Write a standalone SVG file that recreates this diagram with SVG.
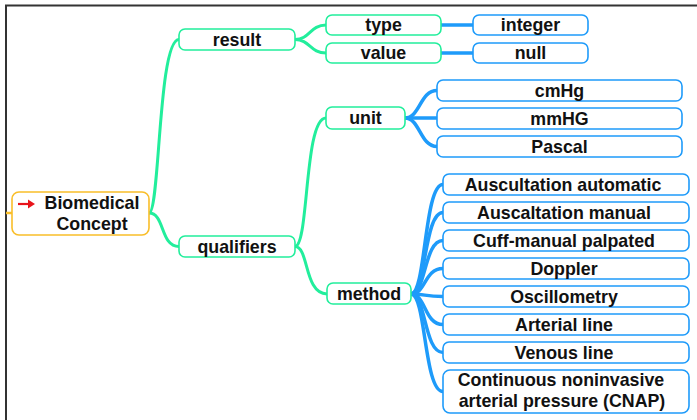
<svg xmlns="http://www.w3.org/2000/svg" width="697" height="420" viewBox="0 0 697 420">
  <style>
    text { font-family: "Liberation Sans", Arial, sans-serif; font-weight: bold; font-size: 17.8px; fill: #111; text-anchor: middle; }
    .g { fill: #fff; stroke: #22EE9C; stroke-width: 1.6; }
    .b { fill: #fff; stroke: #1E9BFA; stroke-width: 1.6; }
    .o { fill: #fff; stroke: #F9BE2A; stroke-width: 1.6; }
    .cg { fill: none; stroke: #22EE9C; stroke-width: 3; stroke-linecap: round; }
    .cb { fill: none; stroke: #1E9BFA; stroke-width: 3.5; stroke-linecap: round; }
  </style>

  <!-- frame -->
  <path d="M6,420 V5.5 H697" fill="none" stroke="#333" stroke-width="2"/>

  <g id="connectors">
    <path class="cg" d="M149,213 C160,213 158,39.5 179,39.5"/>
    <path class="cg" d="M149,213 C165,213 160,246.5 179,246.5"/>
    <path class="cg" d="M295,39.5 C310,39.5 310,25 326,25"/>
    <path class="cg" d="M295,39.5 C310,39.5 310,53 326,53"/>
    <path class="cg" d="M295,246.5 C309,246.5 304,118 326,118"/>
    <path class="cg" d="M295,246.5 C309,246.5 304,294 327,294"/>
    <path class="cb" d="M441,25 H473"/>
    <path class="cb" d="M441,53 H473"/>
    <path class="cb" d="M405,118 C420,118 420,90.5 437,90.5"/>
    <path class="cb" d="M405,118 H437"/>
    <path class="cb" d="M405,118 C420,118 420,146.5 437,146.5"/>
    <path class="cb" d="M411,294 C426,294 424,184.5 443,184.5"/>
    <path class="cb" d="M411,294 C426,294 424,212.5 443,212.5"/>
    <path class="cb" d="M411,294 C426,294 424,240.5 443,240.5"/>
    <path class="cb" d="M411,294 C426,294 424,268.5 443,268.5"/>
    <path class="cb" d="M411,294 C426,294 424,296.5 443,296.5"/>
    <path class="cb" d="M411,294 C426,294 424,324.5 443,324.5"/>
    <path class="cb" d="M411,294 C426,294 424,352.5 443,352.5"/>
    <path class="cb" d="M411,294 C426,294 424,391.5 443,391.5"/>
    <path d="M6,213 H12" stroke="#F9BE2A" stroke-width="2.5"/>
  </g>

  <g id="biomedical-concept">
    <rect class="o" x="12" y="192" width="137" height="43" rx="7"/>
    <path d="M18,204 H30" stroke="#E8141B" stroke-width="2.2"/>
    <path d="M28,199.5 L35,204 L28,208.5 Z" fill="#E8141B"/>
    <text x="92" y="209" font-size="18.2px">Biomedical</text>
    <text x="92" y="230" font-size="18.2px">Concept</text>
  </g>

  <g id="result">
    <rect class="g" x="179" y="29" width="116" height="21" rx="6"/>
    <text x="237" y="46">result</text>
  </g>
  <g id="qualifiers">
    <rect class="g" x="179" y="236" width="116" height="21" rx="6"/>
    <text x="237" y="253">qualifiers</text>
  </g>
  <g id="type">
    <rect class="g" x="326" y="15" width="115" height="20" rx="6"/>
    <text x="383.5" y="31">type</text>
  </g>
  <g id="value">
    <rect class="g" x="326" y="43" width="115" height="20" rx="6"/>
    <text x="383.5" y="59">value</text>
  </g>
  <g id="integer">
    <rect class="b" x="473" y="15" width="115" height="20" rx="6"/>
    <text x="530.5" y="31">integer</text>
  </g>
  <g id="null">
    <rect class="b" x="473" y="43" width="115" height="20" rx="6"/>
    <text x="530.5" y="59">null</text>
  </g>
  <g id="unit">
    <rect class="g" x="326" y="107" width="79" height="22" rx="6"/>
    <text x="365.5" y="124">unit</text>
  </g>
  <g id="method">
    <rect class="g" x="327" y="283" width="84" height="21" rx="6"/>
    <text x="369" y="300">method</text>
  </g>

  <g id="cmhg">
    <rect class="b" x="437" y="80" width="245" height="21" rx="6"/>
    <text x="559.5" y="97">cmHg</text>
  </g>
  <g id="mmhg">
    <rect class="b" x="437" y="108" width="245" height="21" rx="6"/>
    <text x="559.5" y="125">mmHG</text>
  </g>
  <g id="pascal">
    <rect class="b" x="437" y="136" width="245" height="21" rx="6"/>
    <text x="559.5" y="153">Pascal</text>
  </g>

  <g id="auscultation-automatic">
    <rect class="b" x="443" y="174" width="246" height="21" rx="6"/>
    <text x="563" y="191">Auscultation automatic</text>
  </g>
  <g id="auscaltation-manual">
    <rect class="b" x="443" y="202" width="246" height="21" rx="6"/>
    <text x="564" y="219">Auscaltation manual</text>
  </g>
  <g id="cuff-manual-palpated">
    <rect class="b" x="443" y="230" width="246" height="21" rx="6"/>
    <text x="564" y="247">Cuff-manual palpated</text>
  </g>
  <g id="doppler">
    <rect class="b" x="443" y="258" width="246" height="21" rx="6"/>
    <text x="564" y="275">Doppler</text>
  </g>
  <g id="oscillometry">
    <rect class="b" x="443" y="286" width="246" height="21" rx="6"/>
    <text x="564" y="303">Oscillometry</text>
  </g>
  <g id="arterial-line">
    <rect class="b" x="443" y="314" width="246" height="21" rx="6"/>
    <text x="564" y="331">Arterial line</text>
  </g>
  <g id="venous-line">
    <rect class="b" x="443" y="342" width="246" height="21" rx="6"/>
    <text x="564" y="359">Venous line</text>
  </g>
  <g id="cnap">
    <rect class="b" x="443" y="370" width="246" height="43" rx="7"/>
    <text x="561" y="386">Continuous noninvasive</text>
    <text x="562" y="407">arterial pressure (CNAP)</text>
  </g>
</svg>
